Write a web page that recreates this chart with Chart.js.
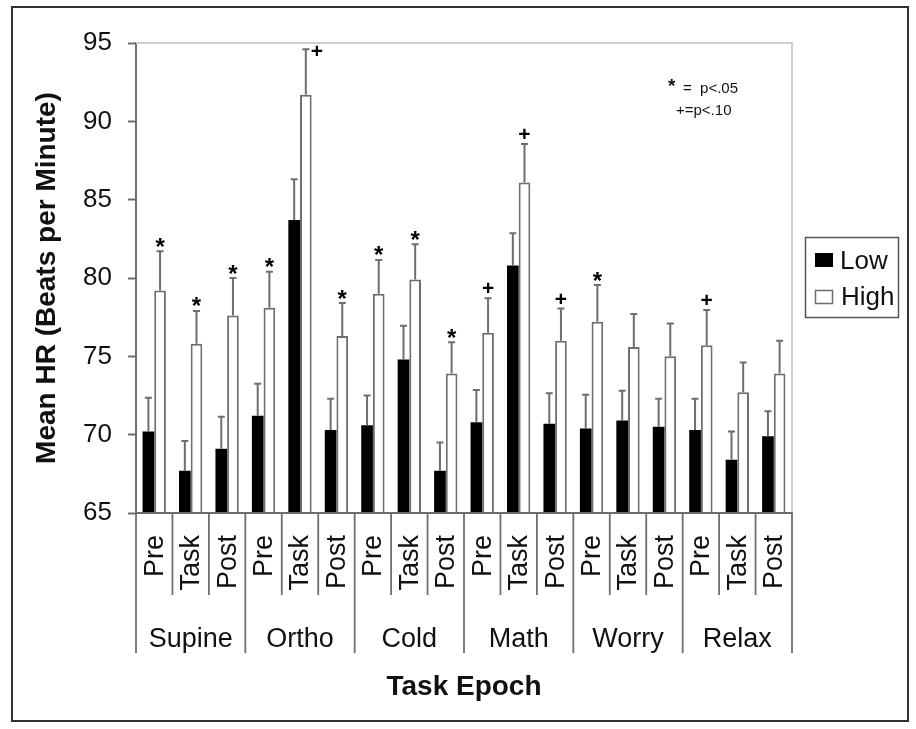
<!DOCTYPE html>
<html>
<head>
<meta charset="utf-8">
<script src="https://cdn.jsdelivr.net/npm/chart.js@4/dist/chart.umd.min.js"></script>
<style>
  html, body { margin: 0; padding: 0; background: #fff; }
  canvas { display: block; }
</style>
</head>
<body>
<canvas id="grafico" width="916" height="729"></canvas>
<script>
// data
const groups = ['Supine', 'Ortho', 'Cold', 'Math', 'Worry', 'Relax'];
const epochs = ['Pre', 'Task', 'Post'];
const categories = groups.flatMap(g => epochs.map(e => g + ' ' + e));

const lowMean = [70.2, 67.7, 69.1, 71.2, 83.7, 70.3, 70.6, 74.8, 67.7, 70.8, 80.8, 70.7, 70.4, 70.9, 70.5, 70.3, 68.4, 69.9];
const lowErr  = [2.15, 1.9, 2.05, 2.05, 2.6, 2.0, 1.9, 2.15, 1.8, 2.05, 2.05, 1.95, 2.15, 1.9, 1.8, 2.0, 1.8, 1.6];
const highMean = [79.2, 75.8, 77.6, 78.1, 91.7, 76.3, 79.0, 79.9, 73.9, 76.5, 86.1, 76.0, 77.2, 75.6, 75.0, 75.7, 72.7, 73.9];
const highErr  = [2.5, 2.1, 2.4, 2.3, 2.9, 2.1, 2.15, 2.25, 2.0, 2.2, 2.45, 2.05, 2.35, 2.1, 2.1, 2.25, 1.9, 2.1];
const signif = ['*', '*', '*', '*', '+', '*', '*', '*', '*', '+', '+', '+', '*', '', '', '+', '', ''];

const yMin = 65, yMax = 95, yStep = 5;

const FONT = '"Liberation Sans", Arial, sans-serif';
const GREY = '#6e6e6e';

// one-sided error bars + significance marks
const errorBars = {
  id: 'errorBars',
  afterDatasetsDraw(chart) {
    const ctx = chart.ctx;
    const ys = chart.scales.y;
    const area = chart.chartArea;
    ctx.save();
    chart.data.datasets.forEach((ds, i) => {
      const meta = chart.getDatasetMeta(i);
      meta.data.forEach((bar, j) => {
        const top = ys.getPixelForValue(ds.data[j] + ds.errors[j]);
        const x = bar.x;
        ctx.strokeStyle = GREY;
        ctx.lineWidth = 2;
        ctx.beginPath();
        ctx.moveTo(x, bar.y);
        ctx.lineTo(x, top);
        ctx.moveTo(x - 3.5, top);
        ctx.lineTo(x + 3.5, top);
        ctx.stroke();

        const mark = ds.marks ? ds.marks[j] : '';
        if (!mark) return;
        ctx.fillStyle = '#000';
        ctx.textAlign = 'center';
        ctx.textBaseline = 'alphabetic';
        let mx = x, my = top - 10;
        if (my < area.top + 6) { mx = x + 11; my = top + 2; }
        if (mark === '*') {
          ctx.font = 'bold 24px ' + FONT;
          ctx.fillText(mark, mx, my + 13.5);
        } else {
          ctx.font = 'bold 21px ' + FONT;
          ctx.fillText(mark, mx, my + 7);
        }
      });
    });
    ctx.restore();
  }
};

// frame, two-level category axis, titles, legend, note
const decorations = {
  id: 'decorations',
  beforeDatasetsDraw(chart) {
    const ctx = chart.ctx;
    const a = chart.chartArea;
    ctx.save();
    ctx.strokeStyle = '#cfcfcf';
    ctx.lineWidth = 2;
    ctx.beginPath();
    ctx.moveTo(a.left, a.top);
    ctx.lineTo(a.right, a.top);
    ctx.lineTo(a.right, a.bottom);
    ctx.stroke();
    ctx.restore();
  },
  afterDraw(chart) {
    const ctx = chart.ctx;
    const a = chart.chartArea;
    const xs = chart.scales.x;
    ctx.save();

    // outer frame
    ctx.strokeStyle = '#333';
    ctx.lineWidth = 2;
    ctx.strokeRect(12, 7, 896, 714);

    // x axis line
    ctx.strokeStyle = GREY;
    ctx.lineWidth = 2;
    ctx.beginPath();
    ctx.moveTo(a.left - 1, a.bottom);
    ctx.lineTo(a.right + 1, a.bottom);
    ctx.stroke();

    // separators
    ctx.lineWidth = 1.8;
    for (let i = 0; i <= categories.length; i++) {
      const x = xs.getPixelForValue(i - 0.5);
      const end = i % epochs.length === 0 ? 653 : 595;
      ctx.beginPath();
      ctx.moveTo(x, a.bottom);
      ctx.lineTo(x, end);
      ctx.stroke();
    }

    // rotated epoch labels
    ctx.fillStyle = '#111';
    ctx.font = '27px ' + FONT;
    categories.forEach((c, i) => {
      const x = xs.getPixelForValue(i);
      ctx.save();
      ctx.translate(x + 1, 535);
      ctx.rotate(-Math.PI / 2);
      ctx.textAlign = 'right';
      ctx.textBaseline = 'middle';
      ctx.fillText(epochs[i % epochs.length], 0, 0);
      ctx.restore();
    });

    // group labels
    ctx.textAlign = 'center';
    ctx.textBaseline = 'alphabetic';
    groups.forEach((g, k) => {
      const x0 = xs.getPixelForValue(k * 3 - 0.5);
      const x1 = xs.getPixelForValue(k * 3 + 2.5);
      ctx.fillText(g, (x0 + x1) / 2, 647);
    });

    // axis titles
    ctx.font = 'bold 28px ' + FONT;
    ctx.fillText('Task Epoch', (a.left + a.right) / 2, 695);
    ctx.save();
    ctx.translate(47, (a.top + a.bottom) / 2);
    ctx.rotate(-Math.PI / 2);
    ctx.textBaseline = 'middle';
    ctx.fillText('Mean HR (Beats per Minute)', 0, 0);
    ctx.restore();

    // legend
    ctx.strokeStyle = '#555';
    ctx.lineWidth = 1.5;
    ctx.strokeRect(805.5, 237.5, 93, 80);
    ctx.fillStyle = '#000';
    ctx.fillRect(815, 253, 18, 14);
    ctx.fillStyle = '#fff';
    ctx.strokeStyle = GREY;
    ctx.fillRect(815.5, 290.5, 17, 13);
    ctx.strokeRect(815.5, 290.5, 17, 13);
    ctx.fillStyle = '#111';
    ctx.textAlign = 'left';
    ctx.font = '26px ' + FONT;
    ctx.fillText('Low', 840, 269);
    ctx.fillText('High', 841, 305);

    // significance note
    ctx.font = 'bold 19px ' + FONT;
    ctx.fillText('*', 668, 92);
    ctx.font = '15px ' + FONT;
    ctx.fillText('=  p<.05', 683, 93);
    ctx.fillText('+=p<.10', 676, 115);

    ctx.restore();
  }
};

new Chart(document.getElementById('grafico'), {
  type: 'bar',
  data: {
    labels: categories,
    datasets: [
      {
        label: 'Low',
        data: lowMean,
        errors: lowErr,
        backgroundColor: '#000',
        borderWidth: 0
      },
      {
        label: 'High',
        data: highMean,
        errors: highErr,
        marks: signif,
        backgroundColor: '#fff',
        borderColor: GREY,
        borderWidth: 2
      }
    ]
  },
  options: {
    responsive: false,
    animation: false,
    devicePixelRatio: 1,
    categoryPercentage: 0.64,
    barPercentage: 1.0,
    layout: { padding: { left: 0, top: 43, right: 124, bottom: 216 } },
    plugins: {
      legend: { display: false },
      tooltip: { enabled: false }
    },
    scales: {
      x: { display: false },
      y: {
        min: yMin,
        max: yMax,
        afterFit(s) { s.width = 136; },
        ticks: {
          stepSize: yStep,
          padding: 16,
          color: '#111',
          font: { family: FONT, size: 26 }
        },
        grid: {
          drawOnChartArea: false,
          drawTicks: true,
          tickLength: 8,
          tickColor: GREY,
          tickWidth: 2
        },
        border: { color: GREY, width: 2 }
      }
    }
  },
  plugins: [errorBars, decorations]
});
</script>
</body>
</html>
